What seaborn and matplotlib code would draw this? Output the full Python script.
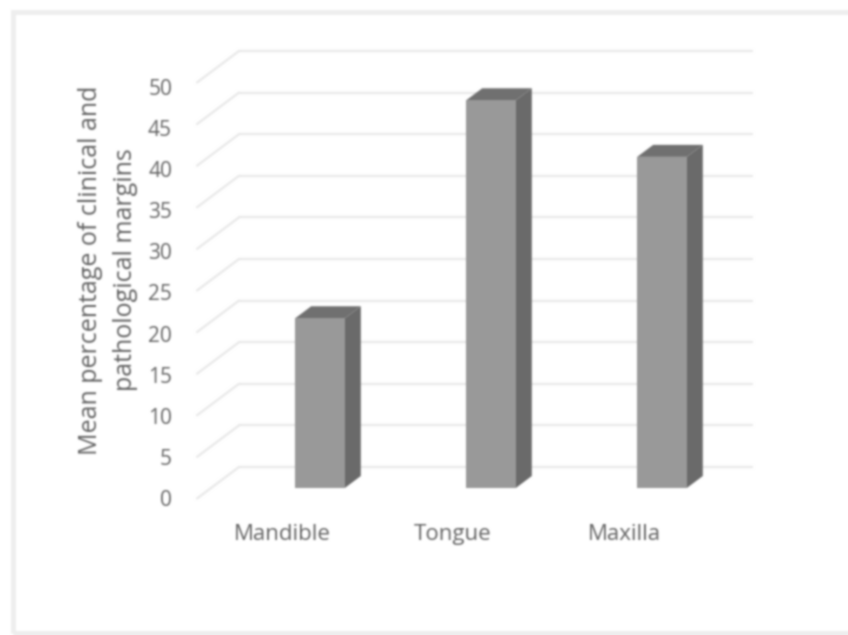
import numpy as np
import pandas as pd
import seaborn as sns
import matplotlib.pyplot as plt
from matplotlib.patches import Polygon, Rectangle
from matplotlib.transforms import ScaledTranslation

categories = ["Mandible", "Tongue", "Maxilla"]
margins = [20.4, 46.6, 39.8]
y_ticks = [0, 5, 10, 15, 20, 25, 30, 35, 40, 45, 50]

text_color = "#646464"
grid_color = "#e9e9e9"

sns.set_theme(style="white")
plt.rcParams["font.family"] = ["Open Sans", "DejaVu Sans"]

W, H = 848, 635
fig = plt.figure(figsize=(W / 100, H / 100), dpi=100)
ax = fig.add_axes([234.5 / W, 1 - 488 / H, 513 / W, 416 / H])
ax.patch.set_alpha(0)

df = pd.DataFrame({"site": categories, "margin": margins})
sns.barplot(data=df, x="site", y="margin", color="#999999", saturation=1,
            width=0.29, linewidth=0, ax=ax, zorder=3)
ax.set_xlim(-0.5, 2.5)
ax.set_ylim(0, 50)


# pixel offset on top of data coordinates
def shifted(dx, dy):
    return ax.transData + ScaledTranslation(dx / 100, dy / 100, fig.dpi_scale_trans)


# back wall gridlines and the slanted floor/side lines
for t in y_ticks:
    ax.plot([-0.5, 2.5], [t, t], color=grid_color, lw=1.6, clip_on=False, zorder=1,
            transform=shifted(4.5, 21))
    left = ax.transData.transform((-0.5, t))
    ax.plot([left[0] - 37.5, left[0] + 4.5], [left[1] - 10.5, left[1] + 21],
            color=grid_color, lw=1.6, clip_on=False, zorder=1, transform=None)

# 3d sides of the bars
for bar in list(ax.patches):
    x0, x1 = bar.get_x(), bar.get_x() + bar.get_width()
    top = bar.get_height()
    (px0, py0), (px1, py1) = ax.transData.transform([(x0, 0), (x1, top)])
    side = [(px1, py0), (px1 + 16, py0 + 12), (px1 + 16, py1 + 12), (px1, py1)]
    cap = [(px0, py1), (px0 + 16, py1 + 12), (px1 + 16, py1 + 12), (px1, py1)]
    ax.add_patch(Polygon(side, closed=True, fc="#6a6a6a", ec="none", transform=None,
                         clip_on=False, zorder=2))
    ax.add_patch(Polygon(cap, closed=True, fc="#707070", ec="none", transform=None,
                         clip_on=False, zorder=2))

ax.set_yticks(y_ticks)
ax.set_xticks(range(len(categories)))
ax.set_xticklabels(categories)
ax.tick_params(axis="both", length=0, labelcolor=text_color)
ax.tick_params(axis="y", pad=45, labelsize=15)
ax.tick_params(axis="x", pad=26, labelsize=16)
# y labels sit a bit lower the higher they go
for t, label in zip(y_ticks, ax.get_yticklabels()):
    label.set_transform(label.get_transform()
                        + ScaledTranslation(0, -(10 + 0.1 * t) / 100, fig.dpi_scale_trans))
for label in ax.get_xticklabels():
    label.set_transform(label.get_transform() + ScaledTranslation(-38 / 100, 0, fig.dpi_scale_trans))

ax.set_xlabel("")
ax.set_ylabel("Mean percentage of clinical and\npathological margins",
              fontsize=18, color=text_color, linespacing=1.55)
ax.yaxis.set_label_coords((138 - 234.5) / 513, (488 - 270) / 416)
sns.despine(ax=ax, left=True, bottom=True)

# light frame of the screenshot
fig.add_artist(Rectangle((12.5 / W, 2 / H), 900 / W, (H - 2 - 11.5) / H, fill=False,
                         ec="#eeeeee", lw=3.5, transform=fig.transFigure))

fig.savefig("out.png", dpi=100)

# the source picture is a soft, upscaled screenshot
img = plt.imread("out.png")[:, :, :3]
kernel = np.array([0.06, 0.24, 0.4, 0.24, 0.06])
pad = np.pad(img, ((2, 2), (2, 2), (0, 0)), mode="edge")
pad = np.apply_along_axis(lambda c: np.convolve(c, kernel, mode="same"), 0, pad)
pad = np.apply_along_axis(lambda c: np.convolve(c, kernel, mode="same"), 1, pad)
plt.imsave("out.png", np.clip(pad[2:-2, 2:-2], 0, 1))
